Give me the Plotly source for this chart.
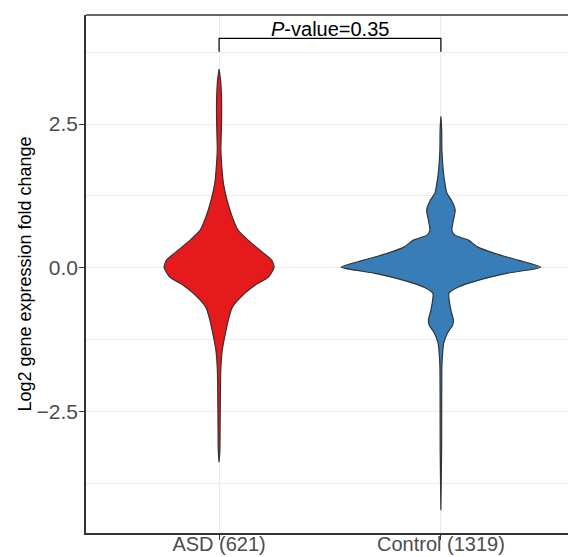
import plotly.graph_objects as go

# Groups on the x axis
groups = ["ASD (621)", "Control (1319)"]
group_pos = [1, 2]
fill_colors = ["#E41A1C", "#377EB8"]

# Density profiles of log2 fold change (relative density, 1 = widest violin)
asd_level = [3.457, 3.266, 2.918, 2.570, 2.222, 2.048, 1.700, 1.473, 1.178, 0.881,
             0.655, 0.481, 0.307, 0.133, 0.011, -0.163, -0.302, -0.441, -0.685,
             -0.859, -1.085, -1.433, -1.781, -2.251, -2.826, -3.174, -3.382]
asd_density = [0.0, 0.015, 0.025, 0.025, 0.02, 0.018, 0.03, 0.043, 0.08, 0.133,
               0.19, 0.29, 0.41, 0.527, 0.551, 0.494, 0.36, 0.26, 0.133,
               0.10, 0.07, 0.032, 0.017, 0.013, 0.01, 0.008, 0.0]

ctrl_level = [2.637, 2.395, 2.048, 1.700, 1.473, 1.299, 1.178, 1.004, 0.829, 0.655,
              0.568, 0.481, 0.359, 0.255, 0.133, 0.011, -0.093, -0.215, -0.337,
              -0.441, -0.563, -0.737, -0.911, -0.998, -1.137, -1.312, -1.486,
              -1.712, -2.303, -3.174, -4.218]
ctrl_density = [0.0, 0.008, 0.01, 0.023, 0.04, 0.06, 0.105, 0.143, 0.125, 0.11,
                0.14, 0.276, 0.371, 0.531, 0.772, 1.0, 0.671, 0.381, 0.17,
                0.08, 0.083, 0.10, 0.125, 0.117, 0.065, 0.028, 0.017,
                0.01, 0.008, 0.007, 0.0]

p_value_text = "<i>P</i>-value=0.35"
bracket_top = 3.99
bracket_drop = 3.758

y_tick_vals = [-2.5, 0.0, 2.5]
y_tick_text = ["\u22122.5", "0.0", "2.5"]
y_minor_vals = [-3.75, -1.25, 1.25, 3.75]

MAX_HALF_WIDTH = 0.45
FONT = "Liberation Sans, Arial, sans-serif"
GRID = "#EBEBEB"
DARK = "#333333"

fig = go.Figure()


def violin_outline(center, levels, density):
    right = [center + MAX_HALF_WIDTH * d for d in density]
    left = [center - MAX_HALF_WIDTH * d for d in density]
    xs = right + left[::-1] + [right[0]]
    ys = levels + levels[::-1] + [levels[0]]
    return xs, ys


for pos, lv, dn, col in zip(group_pos, [asd_level, ctrl_level],
                            [asd_density, ctrl_density], fill_colors):
    xs, ys = violin_outline(pos, lv, dn)
    fig.add_trace(go.Scatter(
        x=xs, y=ys, mode="lines", fill="toself", fillcolor=col,
        line=dict(color=DARK, width=1.2, shape="spline", smoothing=0.6),
        hoverinfo="skip", showlegend=False,
    ))

# Significance bracket
fig.add_trace(go.Scatter(
    x=[group_pos[0], group_pos[0], group_pos[1], group_pos[1]],
    y=[bracket_drop, bracket_top, bracket_top, bracket_drop],
    mode="lines", line=dict(color="black", width=1.2),
    hoverinfo="skip", showlegend=False,
))
fig.add_annotation(
    x=sum(group_pos) / 2, y=bracket_top, yshift=-4, text=p_value_text,
    showarrow=False, xanchor="center", yanchor="bottom",
    font=dict(family=FONT, size=20, color="black"),
)

# Panel border (top edge; left and bottom come from the axis lines)
fig.add_shape(type="line", xref="paper", yref="paper", x0=0, x1=1, y0=1, y1=1,
              line=dict(color=DARK, width=1.5), layer="above")

fig.update_layout(
    template="none",
    width=568, height=557,
    margin=dict(l=86, r=0, t=15, b=24),
    paper_bgcolor="white", plot_bgcolor="white",
    font=dict(family=FONT),
    xaxis=dict(
        range=[0.4, 2.573], tickvals=group_pos, ticktext=groups,
        showgrid=True, gridcolor=GRID, gridwidth=1, zeroline=False,
        showline=True, linecolor=DARK, linewidth=1.5, mirror=False,
        ticks="outside", ticklen=5, tickwidth=1.2, tickcolor=DARK,
        tickfont=dict(family=FONT, size=20, color="#4D4D4D"),
        ticklabelstandoff=-13,
        automargin=False,
    ),
    yaxis=dict(
        range=[-4.613, 4.397], tickvals=y_tick_vals, ticktext=y_tick_text,
        showgrid=True, gridcolor=GRID, gridwidth=1, zeroline=False,
        showline=True, linecolor=DARK, linewidth=1.5, mirror=False,
        ticks="outside", ticklen=5, tickwidth=1.2, tickcolor=DARK,
        tickfont=dict(family=FONT, size=21, color="#4D4D4D"),
        ticklabelstandoff=-3,
        minor=dict(tickvals=y_minor_vals, showgrid=True, gridcolor=GRID,
                   gridwidth=1, ticks=""),
        title=dict(text="Log2 gene expression fold change",
                   font=dict(family=FONT, size=18, color="black"), standoff=0),
        automargin=False,
    ),
)

fig.write_html("out.html")
